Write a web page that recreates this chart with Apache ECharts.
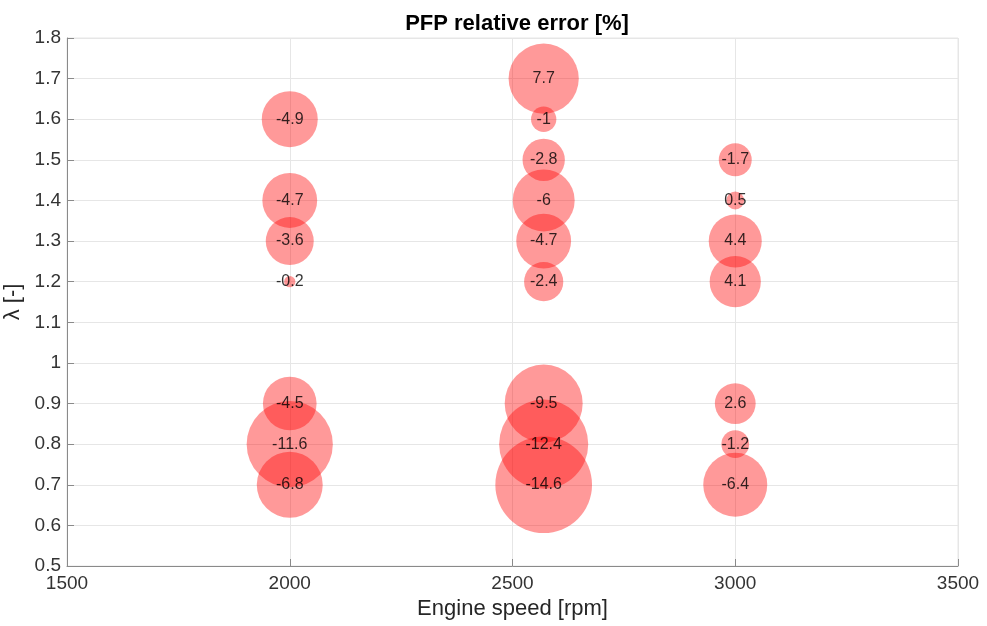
<!DOCTYPE html>
<html>
<head>
<meta charset="utf-8">
<script src="https://cdn.jsdelivr.net/npm/echarts@6/dist/echarts.min.js"></script>
<style>
  html, body { margin: 0; padding: 0; background: #fff; }
  #chart { width: 987px; height: 626px; }
</style>
</head>
<body>
<div id="chart"></div>
<script>
// Operating points: engine speed [rpm], lambda [-], PFP relative error [%]
const speed2000 = 2000;
const lambda2000 = [1.6, 1.4, 1.3, 1.2, 0.9, 0.8, 0.7];
const error2000 = [-4.9, -4.7, -3.6, -0.2, -4.5, -11.6, -6.8];

const speed2570 = 2570;
const lambda2570 = [1.7, 1.6, 1.5, 1.4, 1.3, 1.2, 0.9, 0.8, 0.7];
const error2570 = [7.7, -1, -2.8, -6, -4.7, -2.4, -9.5, -12.4, -14.6];

const speed3000 = 3000;
const lambda3000 = [1.5, 1.4, 1.3, 1.2, 0.9, 0.8, 0.7];
const error3000 = [-1.7, 0.5, 4.4, 4.1, 2.6, -1.2, -6.4];

const xTicks = [1500, 2000, 2500, 3000, 3500];
const yTicks = [0.5, 0.6, 0.7, 0.8, 0.9, 1, 1.1, 1.2, 1.3, 1.4, 1.5, 1.6, 1.7, 1.8];

function points(speed, lambdas, errors) {
  return lambdas.map((l, i) => [speed, l, errors[i]]);
}
const data = [].concat(
  points(speed2000, lambda2000, error2000),
  points(speed2570, lambda2570, error2570),
  points(speed3000, lambda3000, error3000)
);

const FONT = '"Liberation Sans", Arial, Helvetica, sans-serif';
const chart = echarts.init(document.getElementById('chart'), null, { renderer: 'canvas' });

chart.setOption({
  animation: false,
  backgroundColor: '#ffffff',
  title: {
    text: 'PFP relative error [%]',
    left: 512, top: 8, textAlign: 'center',
    textStyle: { fontFamily: FONT, fontSize: 22, fontWeight: 'bold', color: '#000' }
  },
  grid: {
    left: 67, right: 29, top: 38, bottom: 60,
    containLabel: false, outerBoundsMode: 'none',
    show: true, borderColor: '#e6e6e6', borderWidth: 1, backgroundColor: 'transparent'
  },
  xAxis: {
    type: 'value', min: xTicks[0], max: xTicks[xTicks.length - 1], interval: 500,
    name: 'Engine speed [rpm]', nameLocation: 'middle', nameGap: 32,
    nameTextStyle: { fontFamily: FONT, fontSize: 22, color: '#262626' },
    axisLine: { show: true, onZero: false, lineStyle: { color: '#8a8a8a', width: 1 } },
    axisTick: { show: true, inside: true, length: 7, lineStyle: { color: '#8a8a8a' } },
    axisLabel: { fontFamily: FONT, fontSize: 19, color: '#333', margin: 8, formatter: v => String(v) },
    splitLine: { show: true, lineStyle: { color: '#e6e6e6', width: 1 } }
  },
  yAxis: {
    type: 'value', min: yTicks[0], max: yTicks[yTicks.length - 1], interval: 0.1,
    name: 'λ [-]', nameLocation: 'middle', nameGap: 33,
    nameTextStyle: { fontFamily: FONT, fontSize: 22, color: '#262626' },
    axisLine: { show: true, onZero: false, lineStyle: { color: '#8a8a8a', width: 1 } },
    axisTick: { show: true, inside: true, length: 7, lineStyle: { color: '#8a8a8a' } },
    axisLabel: {
      fontFamily: FONT, fontSize: 19, color: '#333', margin: 6,
      formatter: v => String(Math.round(v * 10) / 10)
    },
    splitLine: { show: true, lineStyle: { color: '#e6e6e6', width: 1 } }
  },
  series: [
    {
      // bubbles: marker area proportional to |error|
      type: 'scatter',
      data: data,
      symbol: 'circle',
      symbolSize: v => 25.3 * Math.sqrt(Math.abs(v[2])),
      itemStyle: { color: 'rgba(255,0,0,0.5)' },
      label: { show: false },
      emphasis: { disabled: true },
      z: 2
    },
    {
      // value text drawn above all bubbles
      type: 'scatter',
      data: data,
      symbolSize: 0,
      itemStyle: { color: 'transparent' },
      label: {
        show: true, position: 'inside',
        formatter: p => String(p.value[2]),
        fontFamily: FONT, fontSize: 16, color: '#000'
      },
      emphasis: { disabled: true },
      z: 3
    }
  ]
});
</script>
</body>
</html>
